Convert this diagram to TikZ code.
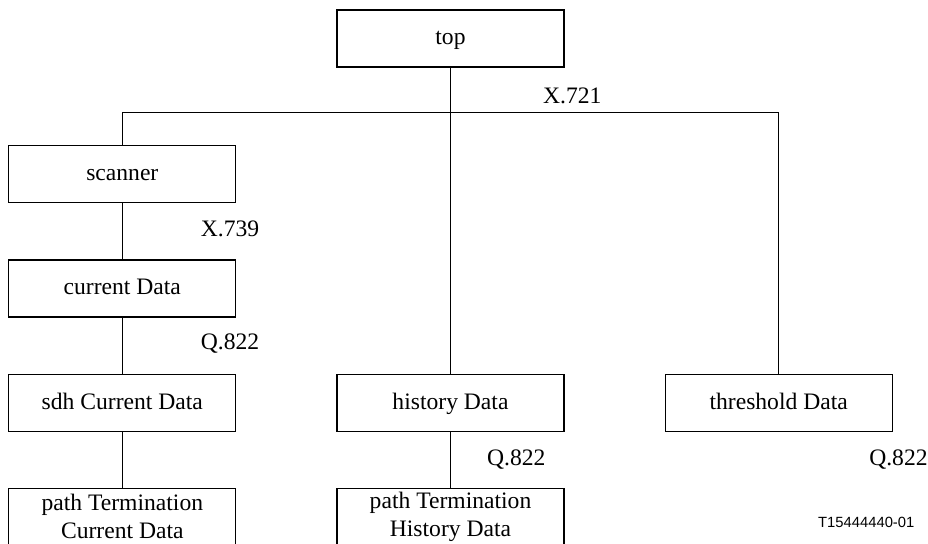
\documentclass[tikz,border=0pt]{standalone}
\usepackage{fontspec}
\setmainfont{Liberation Serif}
\newfontfamily\drawnofont{Liberation Sans}
\usetikzlibrary{positioning}

\begin{document}
\begin{tikzpicture}[
    node distance=28pt,
    every node/.style={align=center, inner sep=0pt, font=\fontsize{11.8}{14}\selectfont},
    box/.style={draw, minimum width=113.5pt, minimum height=28.5pt},
    block/.style={box, text height=9pt, text depth=2.6pt},
    stdlabel/.style={anchor=west},
    line width=0.6pt
]
\useasboundingbox (0,0) rectangle (464pt,-272pt);

\node[block] (top) at (225.25pt,-19.25pt) {top};
\node[block] (hist) [below=153pt of top] {history Data};
\node[block] (sdh) [left=50pt of hist] {sdh Current Data};
\node[block] (thresh) [right=50pt of hist] {threshold Data};
\node[block] (cur) [above=of sdh] {current Data};
\node[block] (scan) [above=of cur] {scanner};
\node[box] (pathcur) [below=of sdh] {path Termination\\Current Data};
\node[box] (pathhist) [below=of hist] {path Termination\\History Data};

\coordinate [below=22.5pt of top] (bus);

% inheritance lines
\draw (top) -- (hist);
\draw (scan.north) |- (bus) -| (thresh.north);
\draw (scan) -- (cur);
\draw (cur) -- (sdh);
\draw (sdh) -- (pathcur);
\draw (hist) -- (pathhist);

% standard references
\node[stdlabel] (x721) at ([xshift=46pt,yshift=8.5pt]bus) {X.721};
\node[stdlabel] (x739) at ([xshift=39pt,yshift=-12.5pt]scan.south) {X.739};
\node[stdlabel] (q822a) at ([xshift=39pt,yshift=-13pt]cur.south) {Q.822};
\node[stdlabel] (q822b) at ([xshift=18pt,yshift=-14pt]hist.south) {Q.822};
\node[stdlabel] (q822c) at ([xshift=45pt,yshift=-14pt]thresh.south) {Q.822};

\node[anchor=east, font=\drawnofont\fontsize{7.4}{9}\selectfont] (figno) at (457.5pt,-261pt) {T15444440-01};

\end{tikzpicture}
\end{document}
